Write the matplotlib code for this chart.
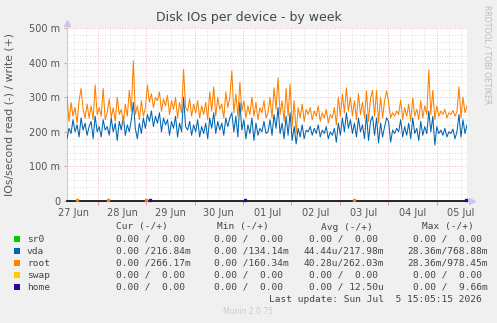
import matplotlib
matplotlib.use("Agg")
from matplotlib import pyplot as plt
import numpy as np

# time axis: days counted from 27 Jun 00:00
t_start = 0.36
t_end = 8.63
day_labels = ["27 Jun", "28 Jun", "29 Jun", "30 Jun", "01 Jul",
              "02 Jul", "03 Jul", "04 Jul", "05 Jul"]

# write IOs/second, in milli
vda = [180, 210, 195, 235, 200, 220, 185, 240, 205, 225, 190, 215, 230, 180, 245, 200, 215, 185, 235, 205,
       215, 190, 240, 200, 225, 175, 230, 205, 245, 190, 220, 200, 235, 285, 210, 180, 225, 195, 240, 210,
       250, 230, 260, 215, 245, 225, 255, 200, 240, 220, 235, 190, 230, 210, 245, 185, 225, 200, 300, 215,
       205, 230, 190, 220, 200, 235, 185, 215, 195, 225, 180, 240, 210, 255, 195, 230, 205, 225, 190, 240,
       215, 240, 255, 200, 245, 185, 285, 205, 235, 180, 220, 195, 240, 175, 225, 190, 210, 200, 230, 195,
       200, 235, 190, 250, 210, 270, 195, 225, 180, 245, 190, 255, 175, 215, 165, 210, 185, 220, 180, 205,
       200, 215, 190, 210, 195, 220, 185, 205, 195, 215, 180, 200, 190, 210, 170, 225, 190, 240, 200, 255,
       210, 235, 195, 225, 185, 240, 200, 220, 180, 250, 175, 230, 245, 190, 240, 168, 225, 185, 215, 240,
       230, 170, 205, 195, 210, 200, 235, 185, 215, 190, 225, 180, 240, 195, 210, 175, 230, 190, 215, 195,
       260, 200, 245, 162, 215, 195, 205, 190, 210, 185, 200, 195, 208, 180, 200, 250, 185, 235, 195, 220]
root = [300, 230, 285, 245, 270, 225, 290, 325, 265, 240, 280, 240, 275, 235, 335, 250, 270, 245, 325, 235,
        255, 295, 240, 270, 230, 300, 250, 265, 225, 280, 245, 320, 260, 405, 250, 275, 235, 290, 245, 270,
        335, 285, 310, 270, 300, 290, 315, 260, 295, 275, 305, 250, 290, 265, 300, 240, 285, 255, 380, 270,
        260, 295, 245, 280, 255, 290, 240, 275, 250, 285, 235, 315, 260, 330, 245, 300, 265, 280, 240, 315,
        270, 300, 376, 255, 310, 245, 343, 260, 290, 240, 275, 250, 300, 245, 285, 235, 270, 255, 290, 240,
        255, 300, 240, 327, 265, 356, 250, 290, 230, 325, 245, 338, 215, 290, 195, 270, 240, 280, 230, 265,
        250, 270, 235, 260, 245, 275, 230, 255, 240, 265, 225, 250, 240, 270, 220, 300, 245, 309, 255, 327,
        260, 300, 245, 290, 235, 310, 250, 285, 240, 318, 230, 295, 320, 245, 320, 225, 300, 240, 290, 318,
        285, 240, 255, 245, 260, 250, 292, 235, 270, 245, 280, 230, 298, 245, 265, 235, 290, 240, 275, 250,
        379, 250, 320, 235, 275, 245, 260, 250, 265, 240, 255, 250, 262, 245, 258, 330, 240, 300, 255, 275]

# small blips sitting on the zero line (day positions)
root_blips = [0.56, 1.2, 2.0, 6.3]
home_blips = [2.08, 4.05, 8.6]

labels = ["sr0", "vda", "root", "swap", "home"]
colors = ["#00CC00", "#0066B3", "#FF8000", "#FFCC00", "#330099"]
cur_vals = ["0.00 /  0.00 ", "0.00 /216.84m", "0.00 /266.17m", "0.00 /  0.00 ", "0.00 /  0.00 "]
min_vals = ["0.00 /  0.00 ", "0.00 /134.14m", "0.00 /160.34m", "0.00 /  0.00 ", "0.00 /  0.00 "]
avg_vals = ["0.00 /  0.00 ", "44.44u/217.98m", "40.28u/262.03m", "0.00 /  0.00 ", "0.00 / 12.50u"]
max_vals = ["0.00 /  0.00 ", "28.36m/768.88m", "28.36m/978.45m", "0.00 /  0.00 ", "0.00 /  9.66m"]

W, H = 497, 323
fig = plt.figure(figsize=(W / 100, H / 100), dpi=100, facecolor="#F0F0F0")
ax = fig.add_axes([67 / W, 1 - 201 / H, 400 / W, 173 / H])
ax.set_facecolor("white")

t = np.linspace(t_start, t_end, len(vda))
ax.plot(t, vda, color=colors[1], lw=0.75, zorder=3)
ax.plot(t, root, color=colors[2], lw=0.75, zorder=4)
ax.axhline(0, color="black", lw=1.2, zorder=5, clip_on=False)
ax.plot(root_blips, [1.5] * len(root_blips), ls="none", marker="s", ms=1.6, color=colors[2], zorder=6, clip_on=False)
ax.plot(home_blips, [1.5] * len(home_blips), ls="none", marker="s", ms=1.6, color=colors[4], zorder=6, clip_on=False)

ax.set_xlim(t_start, t_end)
ax.set_ylim(0, 500)

# grid
for y in range(20, 501, 20):
    if y % 100:
        ax.axhline(y, color="#D4D4D4", lw=0.6, ls=(0, (1, 2)), zorder=1)
for y in range(100, 501, 100):
    ax.axhline(y, color="#E8A0A0", lw=0.6, ls=(0, (1, 2)), zorder=2)
for q in np.arange(0.25, 9, 0.25):
    if q % 1 and t_start < q < t_end:
        ax.axvline(q, color="#D4D4D4", lw=0.6, ls=(0, (1, 2)), zorder=1)
for d in range(1, 9):
    ax.axvline(d, color="#E8A0A0", lw=0.6, ls=(0, (1, 2)), zorder=2)

for s in ["top", "right", "bottom"]:
    ax.spines[s].set_visible(False)
ax.spines["left"].set_color("#C8C8F0")
ax.spines["left"].set_linewidth(0.8)

ax.set_yticks(range(0, 501, 100))
ax.set_yticklabels(["0", "100 m", "200 m", "300 m", "400 m", "500 m"])
ax.tick_params(axis="y", length=2, color="#E8A0A0", labelsize=7, labelcolor="#555555", pad=3)
ax.set_xticks(range(1, 9))
ax.set_xticklabels([])
ax.tick_params(axis="x", which="major", length=3, color="#E8A0A0", width=0.8)
ax.set_xticks(np.arange(0.5, 9, 1), minor=True)
ax.set_xticklabels(day_labels, minor=True)
ax.tick_params(axis="x", which="minor", length=0, labelsize=7, labelcolor="#555555", pad=5)

# axis arrows
ax.plot([0, 0], [1.0, 1.025], transform=ax.transAxes, color="#C8C8F0", lw=0.8, clip_on=False)
ax.plot([0], [1.03], transform=ax.transAxes, marker="^", ms=5, color="#C8C8F0",
        ls="none", clip_on=False)
ax.plot([1.0, 1.008], [0, 0], transform=ax.transAxes, color="#C8C8F0", lw=0.8, clip_on=False)
ax.plot([1.012], [0], transform=ax.transAxes, marker=">", ms=5, color="#C8C8F0",
        ls="none", clip_on=False)

def px(x, y):
    return x / W, 1 - y / H

fig.text(*px(249, 18), "Disk IOs per device - by week", ha="center", va="center",
         fontsize=9, color="#444444")
fig.text(*px(10, 115), "IOs/second read (-) / write (+)", rotation=90, ha="center",
         va="center", fontsize=7.8, color="#555555")
fig.text(*px(487, 55), "RRDTOOL / TOBI OETIKER", rotation=270, ha="center", va="center",
         fontsize=5.6, color="#BBBBBB")

mono = "DejaVu Sans Mono"
fs = 6.8
tc = "#444444"
heads = [("Cur (-/+)", 142), ("Min (-/+)", 243), ("Avg (-/+)", 347), ("Max (-/+)", 448)]
for h, xc in heads:
    fig.text(*px(xc, 227), h, ha="center", va="center", family=mono, fontsize=fs, color=tc)

col_ends = [185, 283, 378, 482]
for i, lab in enumerate(labels):
    y = 239 + 12 * i
    fig.patches.append(plt.Rectangle(px(14, y + 3), 6 / W, 6 / H, transform=fig.transFigure,
                                     facecolor=colors[i], edgecolor="none"))
    fig.text(*px(27, y), lab, ha="left", va="center", family=mono, fontsize=fs, color=tc)
    for vals, xe in zip([cur_vals, min_vals, avg_vals, max_vals], col_ends):
        fig.text(*px(xe + 5.6, y), vals[i], ha="right", va="center", family=mono,
                 fontsize=fs, color=tc)

fig.text(*px(482 + 5.6, 299), "Last update: Sun Jul  5 15:05:15 2026 ", ha="right", va="center",
         family=mono, fontsize=fs, color=tc)
fig.text(*px(248, 312), "Munin 2.0.75", ha="center", va="center", fontsize=5.5, color="#CCCCCC")

plt.savefig("out.png", dpi=100, facecolor=fig.get_facecolor())
